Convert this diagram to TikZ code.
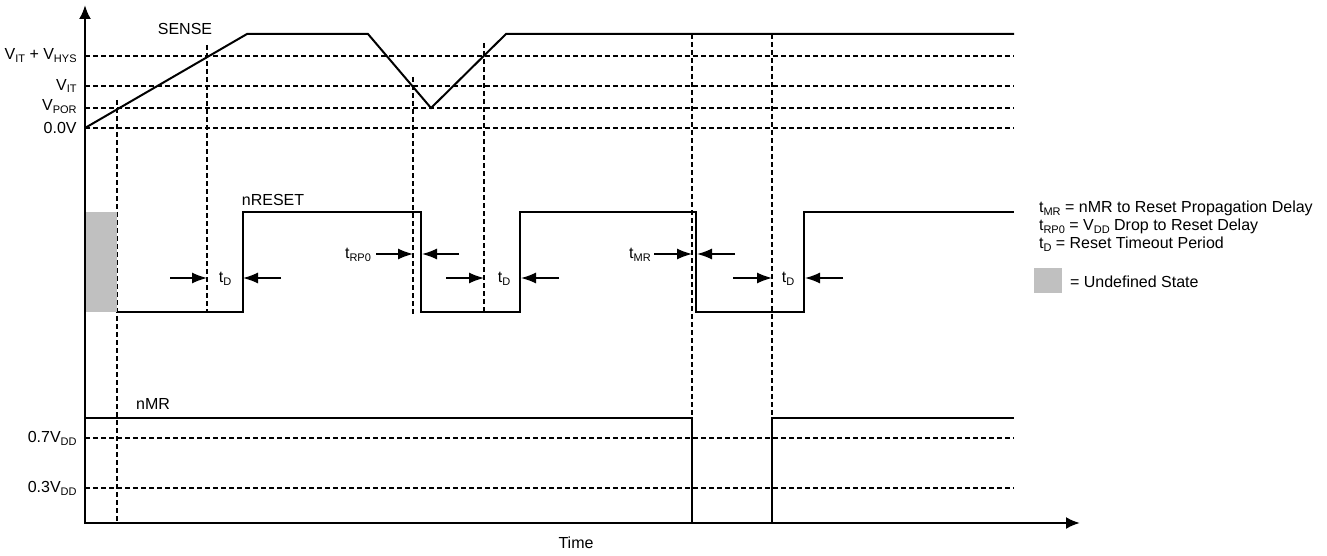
\documentclass[tikz,border=0pt]{standalone}
\usepackage{fontspec}
\setmainfont{Liberation Sans}
\usetikzlibrary{arrows.meta}
\definecolor{undefgray}{RGB}{192,192,192}
\newcommand{\subtxt}[1]{\raisebox{-0.35ex}{\fontsize{5.5pt}{6pt}\selectfont#1}}
\pgfmathsetmacro{\xend}{1014}
\pgfmathsetmacro{\tickarrow}{7.5}

\begin{document}
\begin{tikzpicture}[x=0.5pt, y=-0.5pt,
    font=\fontsize{8pt}{9.5pt}\selectfont,
    signal/.style={line width=1pt, line join=miter},
    thinsignal/.style={line width=0.75pt, line join=miter},
    guide/.style={line width=0.6pt, dash pattern=on 2.5pt off 1.5pt},
    delay/.style={line width=0.7pt, -{Latex[length=\tickarrow pt, width=5.5pt]}},
    axis/.style={line width=1.2pt, {Latex[length=7pt, width=6pt]}-{Latex[length=7pt, width=6pt]}},
    level/.style={anchor=east, inner sep=0pt},
    undef/.style={fill=undefgray, draw=none}]
\useasboundingbox (0,0) rectangle (1327,556);
    % define vertices
    % axes
    \coordinate (v_top) at (85,5);
    \coordinate (origin) at (85,523);
    \coordinate (t_end) at (1080,523);
    % sense
    \coordinate (sense_start) at (85,128);
    \coordinate (sense_top) at (247,34);
    \coordinate (sense_drop) at (368,34);
    \coordinate (sense_min) at (431,108);
    \coordinate (sense_back) at (506,34);
    \coordinate (sense_end) at (\xend,34);
    % nreset
    \coordinate (rst_start) at (117,312);
    \coordinate (rst_rise_a) at (243,312);
    \coordinate (rst_fall_a) at (421,212);
    \coordinate (rst_rise_b) at (520,312);
    \coordinate (rst_fall_b) at (696,212);
    \coordinate (rst_rise_c) at (804,312);
    \coordinate (rst_end) at (\xend,212);
    % nmr
    \coordinate (mr_start) at (85,418);
    \coordinate (mr_fall) at (692,418);
    \coordinate (mr_rise) at (772,523);
    \coordinate (mr_end) at (\xend,418);
    % level lines
    \foreach \lvl in {56,86,108,128,438,488}
        \draw[guide] (85,\lvl) -- (\xend,\lvl);
    % time markers
    \draw[guide] (117,100) -- (117,523);
    \draw[guide] (207,45) -- (207,312);
    \draw[guide] (413,77) -- (413,315);
    \draw[guide] (484,43) -- (484,312);
    \draw[guide] (692,34) -- (692,418);
    \draw[guide] (772,34) -- (772,418);
    % undefined state
    \fill[undefgray] (85,212) rectangle (117,312);
    % draw diagram
    \draw[signal] (sense_start) -- (sense_top) -- (sense_drop) -- (sense_min)
        -- (sense_back) -- (sense_end);
    \draw[thinsignal] (rst_start) -- (rst_rise_a) |- (rst_fall_a) |- (rst_rise_b)
        |- (rst_fall_b) |- (rst_rise_c) |- (rst_end);
    \draw[signal] (mr_start) -- (mr_fall) |- (mr_rise) |- (mr_end);
    \draw[axis] (v_top) -- (origin) -- (t_end);
    % delay arrows
    \coordinate (td_a_in) at (170,278);
    \coordinate (td_a_out) at (281,278);
    \coordinate (trp_in) at (376,254);
    \coordinate (trp_out) at (459,254);
    \coordinate (td_b_in) at (446,278);
    \coordinate (td_b_out) at (559,278);
    \coordinate (tmr_in) at (654,254);
    \coordinate (tmr_out) at (735,254);
    \coordinate (td_c_in) at (733,278);
    \coordinate (td_c_out) at (843,278);
    \draw[delay] (td_a_in) -- (207,278);
    \draw[delay] (td_a_out) -- (243,278);
    \draw[delay] (trp_in) -- (413,254);
    \draw[delay] (trp_out) -- (422,254);
    \draw[delay] (td_b_in) -- (484,278);
    \draw[delay] (td_b_out) -- (521,278);
    \draw[delay] (tmr_in) -- (692,254);
    \draw[delay] (tmr_out) -- (697,254);
    \draw[delay] (td_c_in) -- (772,278);
    \draw[delay] (td_c_out) -- (805,278);
    % add labels
    \node (lbl_hys) [level] at (77,56) {V\subtxt{IT} + V\subtxt{HYS}};
    \node (lbl_vit) [level] at (77,86) {V\subtxt{IT}};
    \node (lbl_por) [level] at (77,107) {V\subtxt{POR}};
    \node (lbl_zero) [level] at (77,128) {0.0V};
    \node (lbl_07) [level] at (77,438) {0.7V\subtxt{DD}};
    \node (lbl_03) [level] at (77,488) {0.3V\subtxt{DD}};
    \node (lbl_sense) at (185,29) {SENSE};
    \node (lbl_rst) at (273,200) {nRESET};
    \node (lbl_mr) at (153,404) {nMR};
    \node (lbl_time) at (576,543) {Time};
    \node (lbl_td_a) at (225,279) {t\subtxt{D}};
    \node (lbl_trp) at (358,255) {t\subtxt{RP0}};
    \node (lbl_td_b) at (504,279) {t\subtxt{D}};
    \node (lbl_tmr) at (640,255) {t\subtxt{MR}};
    \node (lbl_td_c) at (788,279) {t\subtxt{D}};
    % legend
    \node (leg_mr) [anchor=west] at (1032,208) {t\subtxt{MR} = nMR to Reset Propagation Delay};
    \node (leg_rp) [anchor=west] at (1032,226) {t\subtxt{RP0} = V\subtxt{DD} Drop to Reset Delay};
    \node (leg_td) [anchor=west] at (1032,244) {t\subtxt{D} = Reset Timeout Period};
    \node (leg_box) [undef, minimum width=14pt, minimum height=12.5pt, inner sep=0pt] at (1048,280.5) {};
    \node (leg_undef) [anchor=west] at (1063,282) {= Undefined State};
\end{tikzpicture}
\end{document}
